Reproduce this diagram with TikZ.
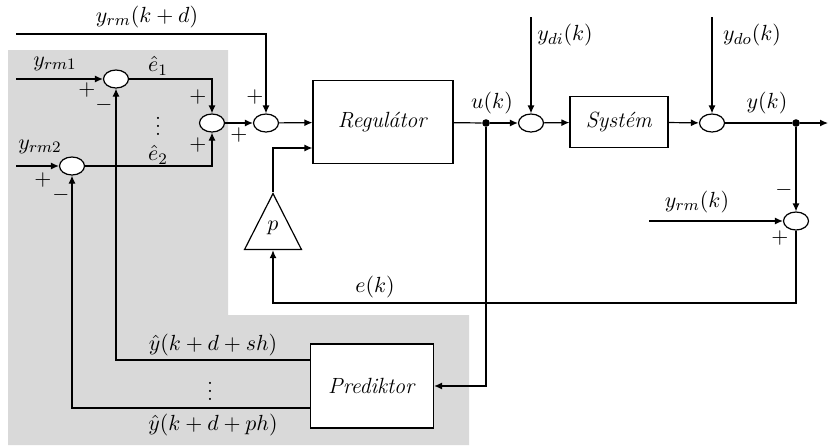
\documentclass[tikz,border=0pt]{standalone}
\usepackage{amsmath}
\usetikzlibrary{shapes.geometric,arrows.meta}

\definecolor{pgray}{RGB}{217,217,217}

\begin{document}
\begin{tikzpicture}[x=0.5pt,y=-0.5pt,line width=0.6pt,
    font=\fontsize{11}{13}\selectfont,
    sum/.style={draw,fill=white,ellipse,minimum width=12.5pt,minimum height=9pt,inner sep=0pt},
    blok/.style={draw,fill=white,rectangle,inner sep=0pt},
    gain/.style={draw,fill=white,isosceles triangle,shape border rotate=90,
      isosceles triangle stretches,minimum width=28.5pt,minimum height=28pt,inner sep=0pt},
    bod/.style={circle,fill=black,inner sep=0pt,minimum size=3.8pt},
    sig/.style={inner sep=0pt}]

    \useasboundingbox (0,0) rectangle (828,445);

    % predictor part
    \fill[pgray] (8,50) -- (228,50) -- (228,315) -- (469,315) -- (469,445) -- (8,445) -- cycle;

    \node[sum] (s1) at (116,79) {};
    \node[sum] (s2) at (72,166) {};
    \node[sum] (sa) at (212,123) {};
    \node[sum] (sb) at (266,123) {};
    \node[sum] (s3) at (531,123) {};
    \node[sum] (s4) at (712,123) {};
    \node[sum] (s5) at (796,221) {};

    \node[blok,minimum width=70pt,minimum height=41.5pt] (reg) at (383,122) {\textit{Regulátor}};
    \node[blok,minimum width=49pt,minimum height=25.5pt] (sys) at (619,122) {\textit{Systém}};
    \node[blok,minimum width=61.5pt,minimum height=42pt] (pred) at (372,386) {\textit{Prediktor}};
    \node[gain,anchor=north] (gp) at (273,192) {};
    \node at (273,228) {$p$};

    \node[bod] (u) at (486,123) {};
    \node[bod] (y) at (796,123) {};

    \coordinate (i1) at (16,79);
    \coordinate (i2) at (16,166);
    \coordinate (id) at (16,34);
    \coordinate (idi) at (531,17);
    \coordinate (ido) at (712,17);
    \coordinate (iyk) at (649,221);
    \coordinate (out) at (828,123);
    \coordinate (ek) at (273,303);

    \draw[arrows={-Latex[length=4pt,width=3.5pt]}] (i1) -- (s1);
    \draw[arrows={-Latex[length=4pt,width=3.5pt]}] (i2) -- (s2);
    \draw[arrows={-Latex[length=4pt,width=3.5pt]}] (s1) -| (sa);
    \draw[arrows={-Latex[length=4pt,width=3.5pt]}] (s2) -| (sa);
    \draw[arrows={-Latex[length=4pt,width=3.5pt]}] (sa) -- (sb);
    \draw[arrows={-Latex[length=4pt,width=3.5pt]}] (id) -| (sb);
    \draw[arrows={-Latex[length=4pt,width=3.5pt]}] (sb) -- (reg);
    \draw (reg) -- (u);
    \draw[arrows={-Latex[length=4pt,width=3.5pt]}] (u) -- (s3);
    \draw[arrows={-Latex[length=4pt,width=3.5pt]}] (idi) -- (s3);
    \draw[arrows={-Latex[length=4pt,width=3.5pt]}] (s3) -- (sys);
    \draw[arrows={-Latex[length=4pt,width=3.5pt]}] (sys) -- (s4);
    \draw[arrows={-Latex[length=4pt,width=3.5pt]}] (ido) -- (s4);
    \draw (s4) -- (y);
    \draw[arrows={-Latex[length=4pt,width=3.5pt]}] (y) -- (out);
    \draw[arrows={-Latex[length=4pt,width=3.5pt]}] (y) -- (s5);
    \draw[arrows={-Latex[length=4pt,width=3.5pt]}] (iyk) -- (s5);
    \draw[arrows={-Latex[length=4pt,width=3.5pt]}] (s5) |- (ek) -- (gp.south);
    \draw[arrows={-Latex[length=4pt,width=3.5pt]}] (gp.north) |- ([yshift=-13pt]reg.west);
    \draw[arrows={-Latex[length=4pt,width=3.5pt]}] (u) |- (pred);
    \draw[arrows={-Latex[length=4pt,width=3.5pt]}] ([yshift=13pt]pred.west) -| (s1);
    \draw[arrows={-Latex[length=4pt,width=3.5pt]}] ([yshift=-11pt]pred.west) -| (s2);

    % signals
    \node at (147,17) {$y_{rm}(k+d)$};
    \node at (55,64) {$y_{rm1}$};
    \node at (40,147) {$y_{rm2}$};
    \node at (158,66) {$\hat{e}_1$};
    \node at (158,155) {$\hat{e}_2$};
    \node at (158,120) {$\vdots$};
    \node at (492,103) {$u(k)$};
    \node at (565,35) {$y_{di}(k)$};
    \node at (752,35) {$y_{do}(k)$};
    \node at (767,103) {$y(k)$};
    \node at (697,202) {$y_{rm}(k)$};
    \node at (375,287) {$e(k)$};
    \node at (213,345) {$\hat{y}(k+d+sh)$};
    \node at (210,385) {$\vdots$};
    \node at (213,425) {$\hat{y}(k+d+ph)$};

    % signs
    \node[sig] at (87,90) {$+$};
    \node[sig] at (104,105) {$-$};
    \node[sig] at (43,180) {$+$};
    \node[sig] at (61,195) {$-$};
    \node[sig] at (198,97) {$+$};
    \node[sig] at (198,145) {$+$};
    \node[sig] at (255,97) {$+$};
    \node[sig] at (239,135) {$+$};
    \node[sig] at (784,190) {$-$};
    \node[sig] at (780,238) {$+$};

  \end{tikzpicture}
\end{document}
